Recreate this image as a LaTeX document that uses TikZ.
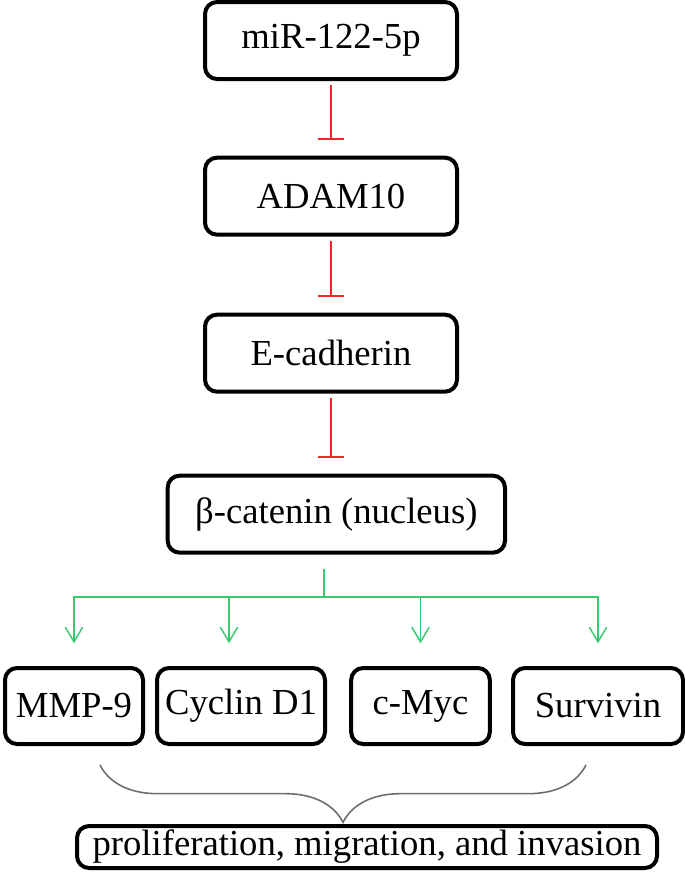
\documentclass[tikz,border=0pt]{standalone}
\usepackage{fontspec}
\setmainfont{Liberation Serif}
\usetikzlibrary{arrows.meta,positioning,decorations.pathreplacing}
\definecolor{inhred}{RGB}{240,40,40}
\definecolor{actgreen}{RGB}{60,200,110}
\definecolor{bracegray}{RGB}{110,110,110}

\begin{document}
\begin{tikzpicture}[x=0.75pt,y=-0.75pt,
  box/.style={draw,line width=3pt,rounded corners=9pt,minimum width=189pt,
    minimum height=57.75pt,inner sep=2pt,font=\fontsize{27.5}{30}\selectfont,align=center},
  gene/.style={box,minimum height=57pt},
  inh/.style={-{Bar[width=19pt,line width=1.2pt]},line width=1.1pt,inhred,
    shorten <=3pt,shorten >=12pt},
  act/.style={-{Straight Barb[length=11pt,width=13pt,line width=1.1pt]},line width=1.1pt,
    actgreen,shorten >=17pt},
  brc/.style={bracegray,line width=1.2pt,decorate,decoration={brace,mirror,amplitude=43pt}},
  node distance=56pt,
]
  \useasboundingbox (0,0) rectangle (685,872);

  % pathway chain
  \node[box] (mir) at (331,40.5) {miR-122-5p};
  \node[box,below=of mir] (adam) {ADAM10};
  \node[box,below=57pt of adam] (ecad) {E-cadherin};
  \node[box,below=60pt of ecad,xshift=4pt,minimum width=253pt] (bcat) {β-catenin (nucleus)};

  \draw[inh] (mir) -- (adam);
  \draw[inh] (adam) -- (ecad);
  \draw[inh] (ecad) -- (ecad |- bcat.north);

  % target genes
  \node[gene,minimum width=103.5pt] (mmp) at (74,706) {MMP-9};
  \node[gene,minimum width=126pt] (cyc) at (241,706) {Cyclin D1};
  \node[gene,minimum width=104pt] (myc) at (420.5,706) {c-Myc};
  \node[gene,minimum width=127.5pt] (surv) at (598,706) {Survivin};

  \coordinate (split) at (324,597);
  \draw[actgreen,line width=1.1pt] (bcat.south -| split) ++(0,14) -- (split);
  \foreach \g/\dx in {mmp/0pt,cyc/-9pt,myc/0pt,surv/0pt}
    \draw[act] (split) -| ([xshift=\dx]\g.north);

  % outcome
  \node[box,minimum width=435pt,minimum height=31.5pt] (out) at (367,847)
    {proliferation, migration, and invasion};
  \coordinate (bl) at (100,765);
  \coordinate (br) at (586,765);
  \draw[brc] (bl) -- (br);
\end{tikzpicture}
\end{document}
